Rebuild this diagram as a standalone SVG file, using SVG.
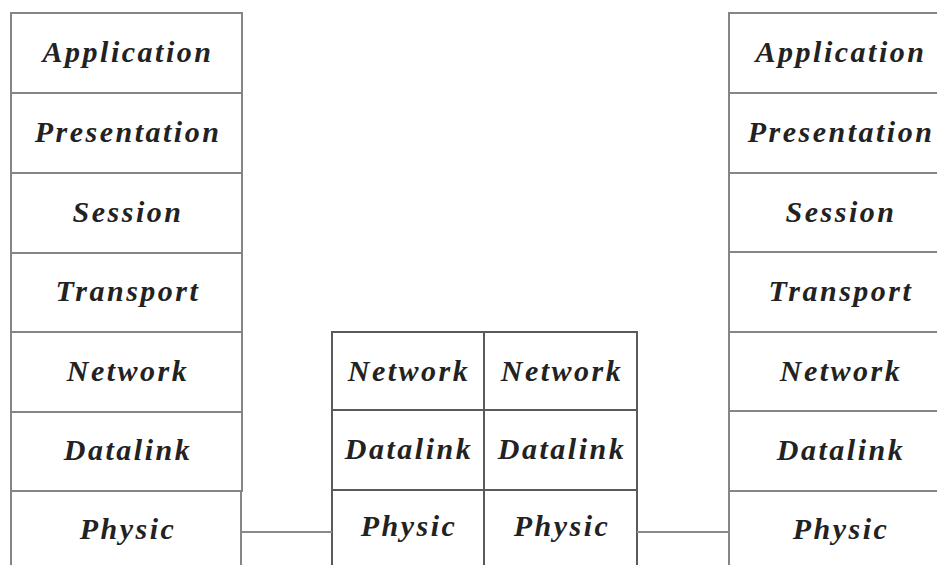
<svg xmlns="http://www.w3.org/2000/svg" width="937" height="565" viewBox="0 0 937 565">
  <style>
    .cell { fill: #ffffff; stroke: #858585; stroke-width: 2; }
    .mid { fill: #ffffff; stroke: #5a5a5a; stroke-width: 2; }
    .wire { stroke: #8a8a8a; stroke-width: 2; fill: none; }
    .lbl { font-family: "Liberation Serif", "Times New Roman", serif; font-size: 30px; font-style: italic; font-weight: bold; fill: #222222; text-anchor: middle; letter-spacing: 2.5px; }
  </style>
  <rect width="937" height="565" fill="#ffffff"/>

  <!-- left host stack -->
  <g id="left-stack">
    <g id="left-application"><rect class="cell" x="11" y="13" width="231" height="80"/><text class="lbl" x="128" y="62">Application</text></g>
    <g id="left-presentation"><rect class="cell" x="11" y="93" width="231" height="80"/><text class="lbl" x="128" y="142">Presentation</text></g>
    <g id="left-session"><rect class="cell" x="11" y="173" width="231" height="80"/><text class="lbl" x="128" y="222">Session</text></g>
    <g id="left-transport"><rect class="cell" x="11" y="253" width="231" height="79"/><text class="lbl" x="128" y="301">Transport</text></g>
    <g id="left-network"><rect class="cell" x="11" y="332" width="231" height="80"/><text class="lbl" x="128" y="381">Network</text></g>
    <g id="left-datalink"><rect class="cell" x="11" y="412" width="231" height="79"/><text class="lbl" x="128" y="460">Datalink</text></g>
    <g id="left-physic"><rect class="cell" x="11" y="491" width="230" height="90"/><text class="lbl" x="128" y="539">Physic</text></g>
  </g>

  <!-- intermediate router: two half stacks -->
  <g id="router">
    <g id="router-a-network"><rect class="mid" x="332" y="332" width="152" height="78"/><text class="lbl" x="409" y="381">Network</text></g>
    <g id="router-a-datalink"><rect class="mid" x="332" y="410" width="152" height="80"/><text class="lbl" x="409" y="459">Datalink</text></g>
    <g id="router-a-physic"><rect class="mid" x="332" y="490" width="152" height="90"/><text class="lbl" x="409" y="536">Physic</text></g>
    <g id="router-b-network"><rect class="mid" x="484" y="332" width="153" height="78"/><text class="lbl" x="562" y="381">Network</text></g>
    <g id="router-b-datalink"><rect class="mid" x="484" y="410" width="153" height="80"/><text class="lbl" x="562" y="459">Datalink</text></g>
    <g id="router-b-physic"><rect class="mid" x="484" y="490" width="153" height="90"/><text class="lbl" x="562" y="536">Physic</text></g>
  </g>

  <!-- right host stack -->
  <g id="right-stack">
    <g id="right-application"><rect class="cell" x="729" y="13" width="240" height="80"/><text class="lbl" x="841" y="62">Application</text></g>
    <g id="right-presentation"><rect class="cell" x="729" y="93" width="240" height="80"/><text class="lbl" x="841" y="142">Presentation</text></g>
    <g id="right-session"><rect class="cell" x="729" y="173" width="240" height="79"/><text class="lbl" x="841" y="222">Session</text></g>
    <g id="right-transport"><rect class="cell" x="729" y="252" width="240" height="80"/><text class="lbl" x="841" y="301">Transport</text></g>
    <g id="right-network"><rect class="cell" x="729" y="332" width="240" height="79"/><text class="lbl" x="841" y="381">Network</text></g>
    <g id="right-datalink"><rect class="cell" x="729" y="411" width="240" height="80"/><text class="lbl" x="841" y="460">Datalink</text></g>
    <g id="right-physic"><rect class="cell" x="729" y="491" width="240" height="90"/><text class="lbl" x="841" y="539">Physic</text></g>
  </g>

  <!-- physical links -->
  <g id="connectors">
    <line class="wire" x1="241" y1="532" x2="332" y2="532"/>
    <line class="wire" x1="637" y1="532" x2="729" y2="532"/>
  </g>
</svg>
